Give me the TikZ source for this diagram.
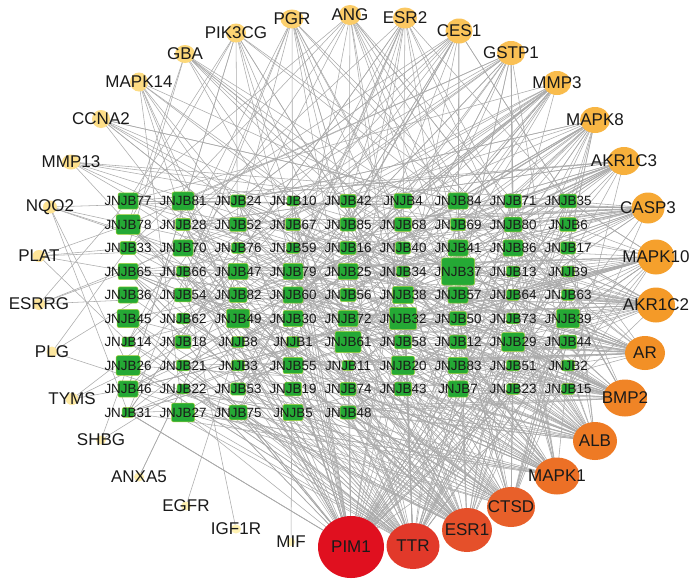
\documentclass[tikz,border=0pt]{standalone}
\usepackage{fontspec}
\setmainfont{Liberation Sans}
\usetikzlibrary{shapes.geometric}
\pgfdeclarelayer{bg}
\pgfsetlayers{bg,main}
\definecolor{jgreen}{HTML}{25A935}
\definecolor{jborder}{HTML}{A6D23C}
\definecolor{edgec}{HTML}{ABABAB}
\definecolor{labc}{HTML}{1A1A1A}
\definecolor{cPIM1}{HTML}{E0101F}
\definecolor{cTTR}{HTML}{E2392A}
\definecolor{cESR1}{HTML}{E5502A}
\definecolor{cCTSD}{HTML}{E8602A}
\definecolor{cMAPK1}{HTML}{EC7026}
\definecolor{cALB}{HTML}{EE7A24}
\definecolor{cBMP2}{HTML}{F08426}
\definecolor{cAR}{HTML}{F29026}
\definecolor{cAKR1C2}{HTML}{F49A28}
\definecolor{cMAPK10}{HTML}{F5A02C}
\definecolor{cCASP3}{HTML}{F6A834}
\definecolor{cAKR1C3}{HTML}{F7B03C}
\definecolor{cMAPK8}{HTML}{F8B644}
\definecolor{cMMP3}{HTML}{F9BC4C}
\definecolor{cGSTP1}{HTML}{FAC054}
\definecolor{cCES1}{HTML}{FAC45A}
\definecolor{cESR2}{HTML}{FBC862}
\definecolor{cANG}{HTML}{FBCC68}
\definecolor{cPGR}{HTML}{FCD06E}
\definecolor{cPIK3CG}{HTML}{FCD474}
\definecolor{cGBA}{HTML}{FCD87A}
\definecolor{cMAPK14}{HTML}{FDDC82}
\definecolor{cCCNA2}{HTML}{FDDE88}
\definecolor{cMMP13}{HTML}{FDE08C}
\definecolor{cNQO2}{HTML}{FDE292}
\definecolor{cPLAT}{HTML}{FEE498}
\definecolor{cESRRG}{HTML}{FEE69C}
\definecolor{cPLG}{HTML}{FEE8A0}
\definecolor{cTYMS}{HTML}{FEEAA4}
\definecolor{cSHBG}{HTML}{FEECA8}
\definecolor{cANXA5}{HTML}{FEEEAC}
\definecolor{cEGFR}{HTML}{FEF0B0}
\definecolor{cIGF1R}{HTML}{FFF2B4}
\definecolor{cMIF}{HTML}{FFF4B8}
\begin{document}
\begin{tikzpicture}[x=1pt,y=-1pt,
  sq/.style={rectangle, rounded corners=2pt, fill=jgreen, draw=jborder, line width=0.5pt, inner sep=0pt},
  jlab/.style={font=\fontsize{13.4}{13.4}\selectfont, text=labc, inner sep=0pt},
  tgt/.style={ellipse, draw=none, inner sep=0pt},
  tlab/.style={font=\fontsize{17}{17}\selectfont, text=labc, inner sep=0pt},
  lnk/.style={draw=edgec, line width=0.55pt}]
\useasboundingbox (0,0) rectangle (700,581);
% compound nodes
\foreach \nn/\ci/\ri/\zz in {
 77/1/1/20, 78/1/2/24, 33/1/3/16, 65/1/4/20, 36/1/5/20, 45/1/6/22, 14/1/7/12, 26/1/8/24, 46/1/9/20, 31/1/10/12,
 81/2/1/22, 28/2/2/15, 70/2/3/20, 66/2/4/13, 54/2/5/17, 62/2/6/13, 18/2/7/16, 21/2/8/13, 22/2/9/12, 27/2/10/23,
 24/3/1/15, 52/3/2/17, 76/3/3/13, 47/3/4/20, 82/3/5/18, 49/3/6/23, 8/3/7/13, 3/3/8/13, 53/3/9/15, 75/3/10/18,
 10/4/1/12, 67/4/2/15, 59/4/3/13, 79/4/4/20, 60/4/5/20, 30/4/6/20, 1/4/7/13, 55/4/8/20, 19/4/9/17, 5/4/10/20,
 42/5/1/16, 85/5/2/16, 16/5/3/16, 25/5/4/20, 56/5/5/16, 72/5/6/20, 61/5/7/26, 11/5/8/12, 74/5/9/16, 48/5/10/16,
 4/6/1/18, 68/6/2/17, 40/6/3/15, 34/6/4/13, 38/6/5/21, 32/6/6/27, 58/6/7/17, 20/6/8/23, 43/6/9/17,
 84/7/1/20, 69/7/2/15, 41/7/3/20, 37/7/4/33, 57/7/5/20, 50/7/6/17, 12/7/7/17, 83/7/8/20, 7/7/9/20,
 71/8/1/17, 80/8/2/18, 86/8/3/20, 13/8/4/13, 64/8/5/13, 73/8/6/13, 29/8/7/23, 51/8/8/13, 23/8/9/13,
 35/9/1/17, 6/9/2/17, 17/9/3/15, 9/9/4/13, 63/9/5/13, 39/9/6/23, 44/9/7/17, 2/9/8/13, 15/9/9/13}{
  \node[sq, minimum width={1pt*\zz}, minimum height={0.82pt*\zz}] (j\nn) at ({128+55*(\ci-1)},{201+23.5*(\ri-1)}) {};
}
\foreach \nn in {1,...,86}{ \node[jlab] at (j\nn) {JNJB\nn}; }
% target nodes
\node[tgt, fill=cPIM1, minimum width=66pt, minimum height=62pt] (PIM1) at (351,547) {};
\node[tgt, fill=cTTR, minimum width=53pt, minimum height=46pt] (TTR) at (413,546) {};
\node[tgt, fill=cESR1, minimum width=50pt, minimum height=44pt] (ESR1) at (467,530) {};
\node[tgt, fill=cCTSD, minimum width=48pt, minimum height=40pt] (CTSD) at (511,507) {};
\node[tgt, fill=cMAPK1, minimum width=45pt, minimum height=37pt] (MAPK1) at (557,476) {};
\node[tgt, fill=cALB, minimum width=44pt, minimum height=38pt] (ALB) at (595,441) {};
\node[tgt, fill=cBMP2, minimum width=44pt, minimum height=37pt] (BMP2) at (625,398) {};
\node[tgt, fill=cAR, minimum width=40pt, minimum height=34pt] (AR) at (645,353) {};
\node[tgt, fill=cAKR1C2, minimum width=38pt, minimum height=35pt] (AKR1C2) at (656,305) {};
\node[tgt, fill=cMAPK10, minimum width=37pt, minimum height=35pt] (MAPK10) at (656,257) {};
\node[tgt, fill=cCASP3, minimum width=33pt, minimum height=31pt] (CASP3) at (648,208) {};
\node[tgt, fill=cAKR1C3, minimum width=32pt, minimum height=28pt] (AKR1C3) at (624,161) {};
\node[tgt, fill=cMAPK8, minimum width=30pt, minimum height=26pt] (MAPK8) at (595,120) {};
\node[tgt, fill=cMMP3, minimum width=28pt, minimum height=24pt] (MMP3) at (557,83) {};
\node[tgt, fill=cGSTP1, minimum width=28pt, minimum height=24pt] (GSTP1) at (511,53) {};
\node[tgt, fill=cCES1, minimum width=27pt, minimum height=25pt] (CES1) at (459,31) {};
\node[tgt, fill=cESR2, minimum width=24pt, minimum height=21pt] (ESR2) at (405,18) {};
\node[tgt, fill=cANG, minimum width=22pt, minimum height=20pt] (ANG) at (350,15) {};
\node[tgt, fill=cPGR, minimum width=23pt, minimum height=19pt] (PGR) at (292,19) {};
\node[tgt, fill=cPIK3CG, minimum width=20pt, minimum height=19pt] (PIK3CG) at (236,33) {};
\node[tgt, fill=cGBA, minimum width=20pt, minimum height=18pt] (GBA) at (185,54) {};
\node[tgt, fill=cMAPK14, minimum width=18pt, minimum height=19pt] (MAPK14) at (139,82) {};
\node[tgt, fill=cCCNA2, minimum width=18pt, minimum height=18pt] (CCNA2) at (101,119) {};
\node[tgt, fill=cMMP13, minimum width=18pt, minimum height=15pt] (MMP13) at (71,162) {};
\node[tgt, fill=cNQO2, minimum width=14pt, minimum height=13pt] (NQO2) at (50,207) {};
\node[tgt, fill=cPLAT, minimum width=13pt, minimum height=12pt] (PLAT) at (39,256) {};
\node[tgt, fill=cESRRG, minimum width=12pt, minimum height=12pt] (ESRRG) at (39,304) {};
\node[tgt, fill=cPLG, minimum width=11pt, minimum height=11pt] (PLG) at (52,352) {};
\node[tgt, fill=cTYMS, minimum width=13pt, minimum height=12pt] (TYMS) at (72,399) {};
\node[tgt, fill=cSHBG, minimum width=10pt, minimum height=9pt] (SHBG) at (101,440) {};
\node[tgt, fill=cANXA5, minimum width=10pt, minimum height=9pt] (ANXA5) at (139,477) {};
\node[tgt, fill=cEGFR, minimum width=10pt, minimum height=9pt] (EGFR) at (186,506) {};
\node[tgt, fill=cIGF1R, minimum width=10pt, minimum height=9pt] (IGF1R) at (236,529) {};
\node[tgt, fill=cMIF, minimum width=8pt, minimum height=8pt] (MIF) at (291,542) {};
\foreach \tn in {PIM1,TTR,ESR1,CTSD,MAPK1,ALB,BMP2,AR,AKR1C2,MAPK10,CASP3,AKR1C3,MAPK8,MMP3,GSTP1,CES1,ESR2,ANG,PGR,PIK3CG,GBA,MAPK14,CCNA2,MMP13,NQO2,PLAT,ESRRG,PLG,TYMS,SHBG,ANXA5,EGFR,IGF1R,MIF}{
  \node[tlab] at (\tn) {\tn};
}
% edges
\begin{pgfonlayer}{bg}
\fill[white] (0,0) rectangle (700,581);
\pgfmathsetseed{4242}
\foreach \tn/\dg in {PIM1/62,TTR/55,ESR1/48,CTSD/45,MAPK1/42,ALB/40,BMP2/38,AR/35,AKR1C2/33,MAPK10/32,CASP3/30,AKR1C3/27,MAPK8/24,MMP3/21,GSTP1/20,CES1/18,ESR2/16,ANG/15,PGR/14,PIK3CG/12,GBA/10,MAPK14/9,CCNA2/8,MMP13/7,EGFR/1,IGF1R/1,MIF/1}{
  \foreach \kk in {1,...,\dg}{
    \pgfmathrandominteger{\rn}{1}{86}
    \draw[lnk] (\tn.center) -- (j\rn.center);
  }
}
\pgfmathdeclarerandomlist{leftn}{{77}{78}{33}{65}{36}{45}{14}{26}{46}{31}{81}{28}{70}{66}{54}{62}{18}{21}{22}{27}{24}{52}{76}{47}{82}{49}{8}{3}{53}{75}{85}{61}{32}}
\foreach \tn/\dg in {NQO2/6,PLAT/5,ESRRG/4,PLG/3,TYMS/3,SHBG/2,ANXA5/2}{
  \foreach \kk in {1,...,\dg}{
    \pgfmathrandomitem{\rn}{leftn}
    \draw[lnk] (\tn.center) -- (j\rn.center);
  }
}
\end{pgfonlayer}
\end{tikzpicture}
\end{document}
